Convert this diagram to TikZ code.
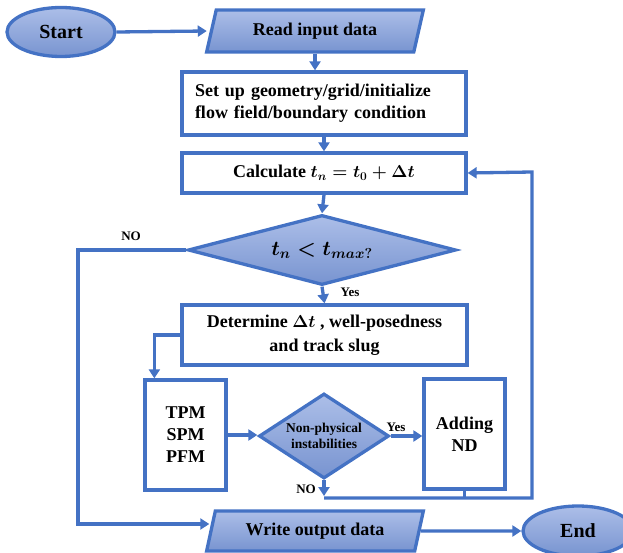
\documentclass[tikz,border=0pt]{standalone}
\usepackage{fontspec}
\setmainfont{Liberation Serif}
\usetikzlibrary{shapes.geometric,arrows.meta,calc}
\definecolor{bline}{RGB}{68,114,196}
\definecolor{ftop}{RGB}{172,190,232}
\definecolor{fbot}{RGB}{120,148,208}
\tikzset{
  base/.style={draw=bline,line width=3.3pt,font=\bfseries\fontsize{18}{22}\selectfont,inner sep=2pt},
  blue/.style={base,top color=ftop,bottom color=fbot},
  term/.style={blue,ellipse,font=\bfseries\fontsize{20}{24}\selectfont},
  io/.style={blue,trapezium,trapezium left angle=73,trapezium right angle=107,minimum height=42pt,minimum width=217pt,trapezium stretches=true},
  proc/.style={base,rectangle,fill=white,align=center},
  dec/.style={blue,diamond,inner sep=0pt},
  conn/.style={draw=bline,line width=3.3pt,-{Triangle[length=9pt,width=11pt]}},
  plainline/.style={draw=bline,line width=3.3pt},
  lab/.style={font=\bfseries\fontsize{13}{15}\selectfont,inner sep=0pt},
}
\begin{document}
\begin{tikzpicture}[x=1pt,y=-1pt]
\useasboundingbox (0,0) rectangle (623,553);
\node[term,minimum width=108pt,minimum height=49pt] (start) at (61,32) {Start};
\node[io] (read) at (315,31) {Read input data};
\node[proc,minimum width=284pt,minimum height=63pt,text width=258pt,align=left] (setup) at (324,103.5) {Set up geometry/grid/initialize\\flow field/boundary condition};
\node[proc,minimum width=284pt,minimum height=40pt,font=\bfseries\boldmath\fontsize{18}{22}\selectfont] (calc) at (324,173) {Calculate $t_n = t_0 + \Delta t$};
\node[dec,aspect=3.8,minimum width=268pt,minimum height=70pt,font=\bfseries\boldmath\fontsize{20}{24}\selectfont] (dia) at (322,250) {$t_n < t_{max\mathrm{?}}$};
\node[proc,minimum width=285pt,minimum height=60pt,font=\bfseries\boldmath\fontsize{18}{24}\selectfont] (det) at (324.5,335) {Determine $\Delta t$ , well-posedness\\and track slug};
\node[proc,minimum width=81pt,minimum height=110pt] (tpm) at (185.5,435) {TPM\\SPM\\PFM};
\node[dec,aspect=1.5,minimum width=130pt,minimum height=85pt,align=center,font=\bfseries\fontsize{13.5}{16}\selectfont] (nonphys) at (324,436) {Non-physical\\instabilities};
\node[proc,minimum width=81pt,minimum height=110pt] (add) at (464.5,434) {Adding\\ND};
\node[io,minimum height=40pt] (write) at (315,531) {Write output data};
\node[term,minimum width=110pt,minimum height=50pt] (end) at (578,531) {End};
\coordinate (lx) at (78,250);
\coordinate (rx) at (532,172);
\coordinate (by) at (324,498);
\node[lab] (no1) at (131,236) {NO};
\node[lab] (yes1) at (350,292) {Yes};
\node[lab] (yes2) at (396,427) {Yes};
\node[lab] (no2) at (306,489) {NO};
\draw[conn] (start.east) -- ($(read.west)+(-3,0)$);
\draw[conn] (read.south) -- (read.south |- setup.north);
\draw[conn] (setup.south) -- (calc.north);
\draw[conn] (calc.south) -- (dia.north);
\draw[conn] (dia.south) -- (det.north);
\draw[conn] (dia.west) -- (lx) |- ($(write.west)+(0,-7)$);
\draw[conn] (det.west) -| ($(tpm.north west)+(11,0)$);
\draw[conn] (tpm.east) -- (tpm.east -| nonphys.west);
\draw[conn] (nonphys.east) -- (nonphys.east -| add.west);
\draw[conn] (nonphys.south) -- ($(by)+(0,-2)$);
\draw[plainline] (add.south) -- (add.south |- by);
\draw[conn] (by) -- (by -| rx) -- (rx) -- (calc.east);
\draw[conn] (write.east) -- (end.west);
\end{tikzpicture}
\end{document}
